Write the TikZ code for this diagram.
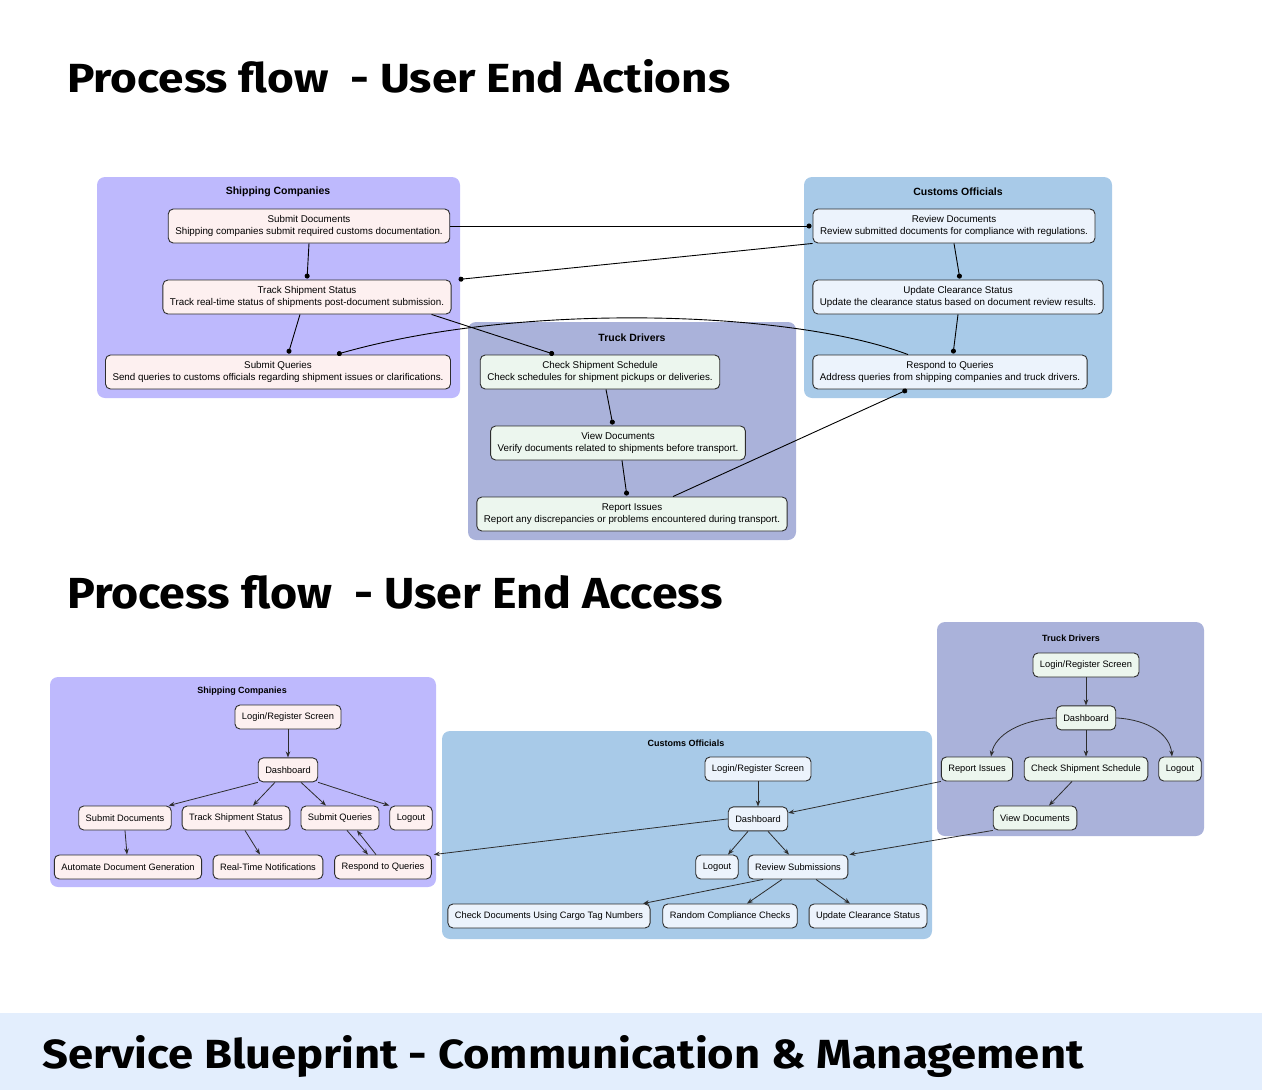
\documentclass[tikz,border=0pt]{standalone}
\usepackage{fontspec}
\setmainfont{Liberation Sans}
\newfontfamily\headfont{Fira Sans}
\usepackage{graphicx}
\usetikzlibrary{arrows.meta,positioning}

\definecolor{scfill}{RGB}{190,185,253}
\definecolor{tdfill}{RGB}{170,178,218}
\definecolor{cofill}{RGB}{168,202,232}
\definecolor{pinkbox}{RGB}{253,240,240}
\definecolor{greenbox}{RGB}{236,246,238}
\definecolor{bluebox}{RGB}{236,243,252}
\definecolor{bannerfill}{RGB}{227,238,253}
\definecolor{edgegray}{RGB}{45,45,45}

\begin{document}
\begin{tikzpicture}[x=1pt, y=-1pt, node distance=28pt]
\tikzstyle{lane} = [rounded corners=8pt]
\tikzstyle{lanetitle} = [font=\bfseries\fontsize{10.5}{12}\selectfont, inner sep=0pt]
\tikzstyle{smalltitle} = [font=\bfseries\fontsize{9}{11}\selectfont, inner sep=0pt]
\tikzstyle{heading} = [anchor=base west, inner sep=0pt]
\tikzstyle{stepbox} = [rectangle, rounded corners=5pt, draw=edgegray, line width=0.9pt, align=center, inner xsep=7pt, inner ysep=2pt, font=\fontsize{9.3}{12}\selectfont]
\tikzstyle{flowtwo} = [stepbox, minimum height=34pt, font=\fontsize{9.8}{12}\selectfont]
\tikzstyle{screen} = [stepbox, minimum height=24pt]
\tikzstyle{dotline} = [-{Circle[length=5pt]}, line width=0.9pt, shorten >=1pt]
\tikzstyle{arr} = [-{Stealth[length=6pt,width=4.5pt]}, line width=0.8pt, draw=edgegray]

\useasboundingbox (0,0) rectangle (1262,1090);

\node[heading] (headactions) at (67,92) {\resizebox{663pt}{33pt}{\headfont\bfseries Process flow\ \ - User End Actions}};
\node[heading] (headaccess) at (67,608) {\resizebox{655pt}{33pt}{\headfont\bfseries Process flow\ \ - User End Access}};

\fill[bannerfill] (0,1013) rectangle (1262,1090);
\node[heading] (headblueprint) at (42,1068) {\resizebox{1041pt}{33pt}{\headfont\bfseries Service Blueprint - Communication \& Management}};

\fill[lane, scfill] (97,177) rectangle (460,398);
\fill[lane, tdfill] (468,322) rectangle (796,540);
\fill[lane, cofill] (804,177) rectangle (1112,398);
\node[lanetitle] (shiptitle) at (278,192) {Shipping Companies};
\node[lanetitle] (trucktitle) at (632,338) {Truck Drivers};
\node[lanetitle] (customtitle) at (958,192) {Customs Officials};

\node[flowtwo, fill=pinkbox] (subdocs) at (309,226) {Submit Documents\\Shipping companies submit required customs documentation.};
\node[flowtwo, fill=pinkbox] (tracks) at (307,297) {Track Shipment Status\\Track real-time status of shipments post-document submission.};
\node[flowtwo, fill=pinkbox] (queries) at (278,372) {Submit Queries\\Send queries to customs officials regarding shipment issues or clarifications.};
\node[flowtwo, fill=greenbox] (chksched) at (600,372) {Check Shipment Schedule\\Check schedules for shipment pickups or deliveries.};
\node[flowtwo, fill=greenbox] (viewdocs) at (618,443) {View Documents\\Verify documents related to shipments before transport.};
\node[flowtwo, fill=greenbox] (report) at (632,514) {Report Issues\\Report any discrepancies or problems encountered during transport.};
\node[flowtwo, fill=bluebox] (reviewdocs) at (954,226) {Review Documents\\Review submitted documents for compliance with regulations.};
\node[flowtwo, fill=bluebox] (updclear) at (958,297) {Update Clearance Status\\Update the clearance status based on document review results.};
\node[flowtwo, fill=bluebox] (respond) at (950,372) {Respond to Queries\\Address queries from shipping companies and truck drivers.};

\draw [dotline] (subdocs.east) -- (reviewdocs.west);
\draw [dotline] (reviewdocs.south west) -- ([xshift=6pt]tracks.north east);
\draw [dotline] (subdocs.south) -- (tracks.north);
\draw [dotline] ([xshift=-7pt]tracks.south) -- ([xshift=10pt]queries.north);
\draw [dotline] ([xshift=-20pt]tracks.south east) -- ([xshift=-45pt]chksched.north);
\draw [dotline] ([xshift=-42pt]respond.north) .. controls (790,310) and (520,302) .. ([xshift=58pt]queries.north);
\draw [dotline] (reviewdocs.south) -- ([xshift=2pt]updclear.north);
\draw [dotline] (updclear.south) -- ([xshift=3pt]respond.north);
\draw [dotline] ([xshift=6pt]chksched.south) -- ([xshift=-5pt]viewdocs.north);
\draw [dotline] ([xshift=4pt]viewdocs.south) -- ([xshift=-5pt]report.north);
\draw [dotline] ([xshift=41pt]report.north) -- ([xshift=-42pt]respond.south);

\fill[lane, scfill] (50,677) rectangle (436,887);
\fill[lane, cofill] (442,731) rectangle (932,939);
\fill[lane, tdfill] (937,622) rectangle (1204,836);
\node[smalltitle] (shiptitleb) at (242,691) {Shipping Companies};
\node[smalltitle] (customtitleb) at (686,743) {Customs Officials};
\node[smalltitle] (trucktitleb) at (1071,638) {Truck Drivers};

\node[screen, fill=pinkbox] (loginsc) at (288,717) {Login/Register Screen};
\node[screen, fill=pinkbox] (dashsc) [below = of loginsc] {Dashboard};
\node[screen, fill=pinkbox] (subdocsb) at (125,818) {Submit Documents};
\node[screen, fill=pinkbox] (tracksb) at (236,818) {Track Shipment Status};
\node[screen, fill=pinkbox] (queriesb) at (340,818) {Submit Queries};
\node[screen, fill=pinkbox] (logoutsc) at (411,818) {Logout};
\node[screen, fill=pinkbox] (autogen) at (128,867) {Automate Document Generation};
\node[screen, fill=pinkbox] (notify) at (268,867) {Real-Time Notifications};
\node[screen, fill=pinkbox] (respondsc) at (383,867) {Respond to Queries};

\node[screen, fill=bluebox] (loginco) at (758,769) {Login/Register Screen};
\node[screen, fill=bluebox] (dashco) [below = 25pt of loginco] {Dashboard};
\node[screen, fill=bluebox] (logoutco) at (717,867) {Logout};
\node[screen, fill=bluebox] (reviewsub) at (798,867) {Review Submissions};
\node[screen, fill=bluebox] (cargotag) at (549,916) {Check Documents Using Cargo Tag Numbers};
\node[screen, fill=bluebox] (randomchk) at (730,916) {Random Compliance Checks};
\node[screen, fill=bluebox] (updclearb) at (868,916) {Update Clearance Status};

\node[screen, fill=greenbox] (logintd) at (1086,665) {Login/Register Screen};
\node[screen, fill=greenbox] (dashtd) [below = of logintd] {Dashboard};
\node[screen, fill=greenbox] (reporttd) at (977,769) {Report Issues};
\node[screen, fill=greenbox] (schedtd) at (1086,769) {Check Shipment Schedule};
\node[screen, fill=greenbox] (logouttd) at (1180,769) {Logout};
\node[screen, fill=greenbox] (viewtd) at (1035,818) {View Documents};

\draw [arr] (loginsc) -- (dashsc);
\draw [arr] (dashsc.south west) -- ([xshift=-3pt]subdocsb.north east);
\draw [arr] ([xshift=-13pt]dashsc.south) -- ([xshift=17pt]tracksb.north);
\draw [arr] ([xshift=13pt]dashsc.south) -- ([xshift=-14pt]queriesb.north);
\draw [arr] (dashsc.south east) -- (logoutsc.north west);
\draw [arr] (subdocsb.south) -- ([xshift=-1pt]autogen.north);
\draw [arr] ([xshift=9pt]tracksb.south) -- ([xshift=-8pt]notify.north);
\draw [arr] ([xshift=7pt]queriesb.south) -- ([xshift=-15pt]respondsc.north);
\draw [arr] ([xshift=-7pt]respondsc.north) -- ([xshift=17pt]queriesb.south);

\draw [arr] (loginco) -- (dashco);
\draw [arr] ([xshift=-10pt]dashco.south) -- ([xshift=11pt]logoutco.north);
\draw [arr] ([xshift=10pt]dashco.south) -- ([xshift=-9pt]reviewsub.north);
\draw [arr] ([xshift=-35pt]reviewsub.south) -- ([xshift=94pt]cargotag.north);
\draw [arr] ([xshift=-16pt]reviewsub.south) -- ([xshift=17pt]randomchk.north);
\draw [arr] ([xshift=18pt]reviewsub.south) -- ([xshift=-18pt]updclearb.north);
\draw [arr] (dashco.west) -- ([xshift=2pt]respondsc.north east);

\draw [arr] (logintd) -- (dashtd);
\draw [arr] (dashtd.west) .. controls (1020,720) and (995,735) .. ([xshift=14pt]reporttd.north);
\draw [arr] (dashtd) -- (schedtd);
\draw [arr] (dashtd.east) .. controls (1150,720) and (1170,735) .. ([xshift=-8pt]logouttd.north);
\draw [arr] ([xshift=-14pt]schedtd.south) -- ([xshift=14pt]viewtd.north);
\draw [arr] (reporttd.south west) -- ([yshift=6pt]dashco.east);
\draw [arr] (viewtd.south west) -- ([xshift=1pt]reviewsub.north east);
\end{tikzpicture}
\end{document}
